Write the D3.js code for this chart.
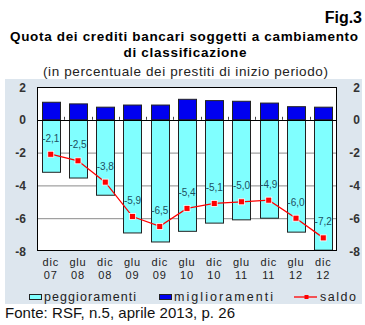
<!DOCTYPE html>
<html><head><meta charset="utf-8">
<script src="https://cdn.jsdelivr.net/npm/d3@7"></script>
<style>body{margin:0;background:#fff}svg{display:block}text{font-family:Arial,"Liberation Sans",sans-serif}</style>
</head><body><svg id="c" width="365" height="325"></svg>
<script>
const periods = ["dic","glu","dic","glu","dic","glu","dic","glu","dic","glu","dic"];
const years = ["07","08","08","09","09","10","10","11","11","12","12"];
const peggioramenti = [-3.2,-3.55,-4.6,-6.9,-7.45,-6.8,-6.3,-6.1,-6.0,-6.85,-7.95];
const miglioramenti = [1.07,0.97,0.77,0.9,0.9,1.25,1.17,1.13,1.02,0.8,0.77];
const saldo = [-2.1,-2.5,-3.8,-5.9,-6.5,-5.4,-5.1,-5.0,-4.9,-6.0,-7.2];
const saldoLabels = ["-2,1","-2,5","-3,8","-5,9","-6,5","-5,4","-5,1","-5,0","-4,9","-6,0","-7,2"];
const yTicks = [2,0,-2,-4,-6,-8];
const gridTicks = [-2,-4,-6];

const svg = d3.select("#c");
const idx = d3.range(periods.length);
const x = d3.scaleBand().domain(idx).range([37,337]).paddingInner(0.33).paddingOuter(0.17);
const xb = d3.scaleBand().domain(idx).range([37,337]);
const y = d3.scaleLinear().domain([-8,2]).range([251,87]);

// titles
svg.append("text").attr("x",362).attr("y",23).attr("text-anchor","end").attr("font-weight","bold").attr("font-size",16).text("Fig.3");
svg.append("text").attr("x",184).attr("y",41).attr("text-anchor","middle").attr("font-weight","bold").attr("font-size",13.5).attr("textLength",348).attr("lengthAdjust","spacing").text("Quota dei crediti bancari soggetti a cambiamento");
svg.append("text").attr("x",185).attr("y",57).attr("text-anchor","middle").attr("font-weight","bold").attr("font-size",13.5).attr("textLength",123).attr("lengthAdjust","spacing").text("di classificazione");
svg.append("text").attr("x",185.5).attr("y",76).attr("text-anchor","middle").attr("font-size",13.5).attr("fill","#222").attr("textLength",285).attr("lengthAdjust","spacing").text("(in percentuale dei prestiti di inizio periodo)");

// panel
svg.append("rect").attr("x",5).attr("y",79).attr("width",357).attr("height",225).attr("fill","#dde6ee");
svg.append("rect").attr("x",37).attr("y",87).attr("width",300).attr("height",164).attr("fill","#fff");

// grid
svg.append("g").selectAll("line").data(gridTicks).join("line")
  .attr("x1",37).attr("x2",337).attr("y1",d=>y(d)+0.5).attr("y2",d=>y(d)+0.5)
  .attr("stroke","#8a8a8a").attr("stroke-width",1);

// bars
svg.append("g").selectAll("rect").data(idx).join("rect")
  .attr("x",i=>Math.round(x(i))+0.5).attr("y",y(0)).attr("width",Math.round(x.bandwidth()))
  .attr("height",i=>y(peggioramenti[i])-y(0))
  .attr("fill","#80ffff").attr("stroke","#222").attr("stroke-width",1);
svg.append("g").selectAll("rect").data(idx).join("rect")
  .attr("x",i=>Math.round(x(i))+0.5).attr("y",i=>y(miglioramenti[i])).attr("width",Math.round(x.bandwidth()))
  .attr("height",i=>y(0)-y(miglioramenti[i]))
  .attr("fill","#0000f0").attr("stroke","#222").attr("stroke-width",1);

// zero line and ticks
svg.append("line").attr("x1",37).attr("x2",337).attr("y1",Math.round(y(0))+0.5).attr("y2",Math.round(y(0))+0.5).attr("stroke","#000");
svg.append("g").selectAll("line").data(idx.slice(1)).join("line")
  .attr("x1",i=>Math.round(xb(i))+0.5).attr("x2",i=>Math.round(xb(i))+0.5)
  .attr("y1",y(0)-3).attr("y2",y(0)).attr("stroke","#444");

// border
svg.append("rect").attr("x",37.5).attr("y",87.5).attr("width",299).attr("height",163).attr("fill","none").attr("stroke","#000");

// saldo line
const cx = i=>x(i)+x.bandwidth()/2;
svg.append("path").datum(idx).attr("fill","none").attr("stroke","#ff0000").attr("stroke-width",1.3)
  .attr("d",d3.line().x(cx).y(i=>y(saldo[i])));
svg.append("g").selectAll("rect").data(idx).join("rect")
  .attr("x",i=>cx(i)-3).attr("y",i=>y(saldo[i])-3).attr("width",6).attr("height",6)
  .attr("fill","#ff0000").attr("stroke","#fff").attr("stroke-width",0.8);

// data labels
svg.append("g").selectAll("text").data(idx).join("text")
  .attr("x",i=>cx(i)).attr("y",i=>y(saldo[i])-12.5).attr("text-anchor","middle")
  .attr("font-size",10).attr("fill","#1d4f5f").text(i=>saldoLabels[i]);

// y axes labels
const yl = svg.append("g");
yl.selectAll("text.l").data(yTicks).join("text").attr("class","l")
  .attr("x",26).attr("y",d=>y(d)+4.5).attr("text-anchor","end").attr("font-size",12).attr("font-weight","bold").attr("fill","#333").text(d=>d);
yl.selectAll("text.r").data(yTicks).join("text").attr("class","r")
  .attr("x",360).attr("y",d=>y(d)+4.5).attr("text-anchor","end").attr("font-size",12).attr("font-weight","bold").attr("fill","#333").text(d=>d);

// x labels
const xl = svg.append("g");
xl.selectAll("text.p").data(idx).join("text").attr("class","p")
  .attr("x",cx).attr("y",266).attr("text-anchor","middle").attr("font-size",11).attr("letter-spacing",0.8).attr("fill","#222").text(i=>periods[i]);
xl.selectAll("text.yr").data(idx).join("text").attr("class","yr")
  .attr("x",cx).attr("y",279).attr("text-anchor","middle").attr("font-size",11).attr("letter-spacing",0.8).attr("fill","#222").text(i=>years[i]);

// legend
const lg = svg.append("g");
lg.append("rect").attr("x",29.5).attr("y",294.5).attr("width",12).attr("height",5).attr("fill","#80ffff").attr("stroke","#222");
lg.append("text").attr("x",44).attr("y",301).attr("font-size",12.5).attr("fill","#222").attr("textLength",92).attr("lengthAdjust","spacing").text("peggioramenti");
lg.append("rect").attr("x",159.5).attr("y",294.5).attr("width",12).attr("height",5).attr("fill","#0000f0").attr("stroke","#222");
lg.append("text").attr("x",174).attr("y",301).attr("font-size",12.5).attr("fill","#222").attr("textLength",99).attr("lengthAdjust","spacing").text("miglioramenti");
lg.append("line").attr("x1",294).attr("x2",317).attr("y1",297).attr("y2",297).attr("stroke","#ff0000").attr("stroke-width",1.3);
lg.append("rect").attr("x",304.5).attr("y",295).attr("width",4).attr("height",4).attr("fill","#ff0000");
lg.append("text").attr("x",320).attr("y",301).attr("font-size",12.5).attr("fill","#222").attr("textLength",36).attr("lengthAdjust","spacing").text("saldo");

// source
svg.append("text").attr("x",5).attr("y",318).attr("font-size",15).attr("fill","#111").attr("textLength",230).attr("lengthAdjust","spacing").text("Fonte: RSF, n.5, aprile 2013, p. 26");
</script></body></html>
